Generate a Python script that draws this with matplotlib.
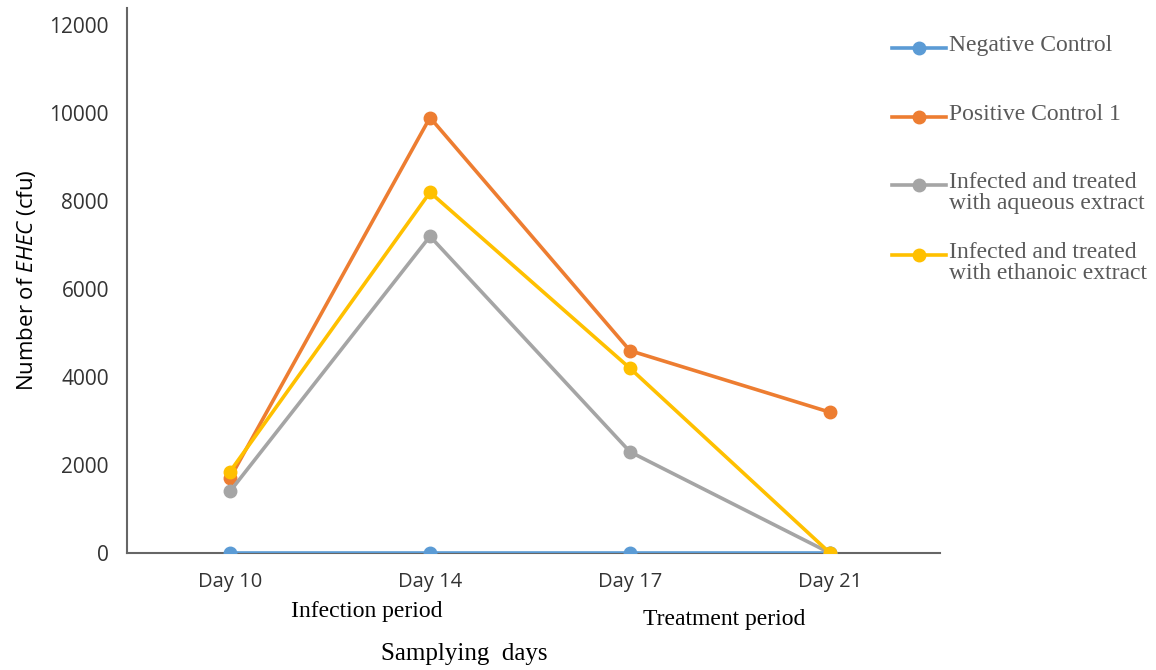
"""EHEC counts over sampling days for the four mouse groups."""
import matplotlib
matplotlib.use("Agg")
import matplotlib.pyplot as plt
from matplotlib.lines import Line2D

days = ["Day 10", "Day 14", "Day 17", "Day 21"]
series_names = [
    "Negative Control",
    "Positive Control 1",
    "Infected and treated\nwith aqueous extract",
    "Infected and treated\nwith ethanoic extract",
]
negative = [0, 0, 0, 0]
positive = [1700, 9900, 4600, 3200]
aqueous = [1400, 7200, 2300, 0]
ethanoic = [1850, 8200, 4200, 0]
yticks = [0, 2000, 4000, 6000, 8000, 10000, 12000]

colours = ["#5B9BD5", "#ED7D31", "#A5A5A5", "#FFC000"]

plt.rcParams["mathtext.fontset"] = "custom"
plt.rcParams["mathtext.it"] = "Open Sans:italic"
plt.rcParams["mathtext.rm"] = "Open Sans"

fig = plt.figure(figsize=(11.56, 6.70), dpi=100)
ax = fig.add_axes([127 / 1156, 117 / 670, (940 - 127) / 1156, (553 - 8) / 670])

x = range(len(days))
for vals, col in zip([negative, positive, aqueous, ethanoic], colours):
    ax.plot(x, vals, color=col, lw=2.6, marker="o", ms=9, zorder=3)

ax.set_xlim(-0.515, 3.55)
ax.set_ylim(0, 12390)
ax.set_xticks(list(x))
ax.set_xticklabels(days, family="Open Sans", fontsize=14.5, color="#333333")
ax.set_yticks(yticks)
ax.set_yticklabels([str(v) for v in yticks], family="Open Sans", fontsize=15,
                   color="#333333")
ax.tick_params(axis="x", length=0, pad=14)
ax.tick_params(axis="y", length=0, pad=13)
for s in ("top", "right"):
    ax.spines[s].set_visible(False)
for s in ("left", "bottom"):
    ax.spines[s].set_color("#666666")
    ax.spines[s].set_linewidth(1.5)

ax.set_ylabel(r"Number of $\mathit{EHEC}$ (cfu)", family="Open Sans",
              fontsize=16, labelpad=8)

serif = "Liberation Serif"
fig.text(367 / 1156, 1 - 612 / 670, "Infection period", family=serif,
         fontsize=17, ha="center", va="center")
fig.text(724 / 1156, 1 - 620 / 670, "Treatment period", family=serif,
         fontsize=17, ha="center", va="center")
fig.text(464 / 1156, 1 - 654 / 670, "Samplying  days", family=serif,
         fontsize=18, ha="center", va="center")

# legend drawn by hand so the handle sits on the first text line
legend_y = [48, 117, 185, 255]
for name, col, yy in zip(series_names, colours, legend_y):
    fy = 1 - yy / 670
    fig.add_artist(Line2D([892 / 1156, 946 / 1156], [fy, fy], color=col, lw=2.6,
                          transform=fig.transFigure))
    fig.add_artist(Line2D([919 / 1156], [fy], color=col, marker="o", ms=9,
                          transform=fig.transFigure))
    fig.text(949 / 1156, fy + 13 / 670, name, family=serif, fontsize=17,
             color="#595959", ha="left", va="top", linespacing=1.0)

fig.savefig("out.png", dpi=100)
